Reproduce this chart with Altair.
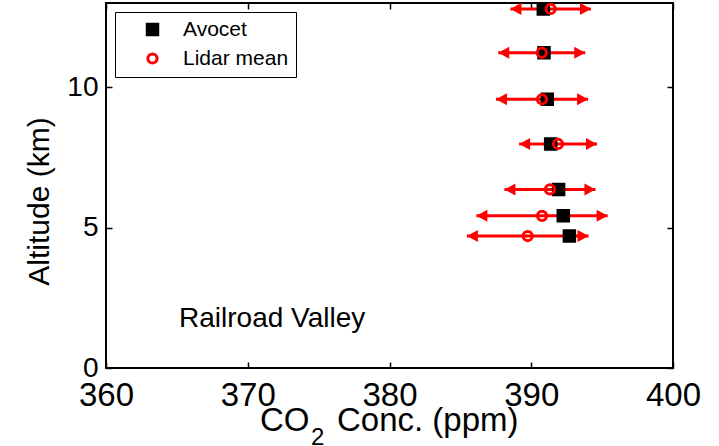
import altair as alt
import pandas as pd

# Profile values (altitude in km, CO2 in ppm)
altitude_km = [12.79, 11.23, 9.57, 7.98, 6.36, 5.42, 4.70]
avocet_ppm = [390.85, 390.90, 391.13, 391.37, 391.93, 392.26, 392.69]
lidar_ppm = [391.37, 390.74, 390.76, 391.89, 391.32, 390.76, 389.75]
lidar_err_ppm = [2.84, 3.07, 3.25, 2.75, 3.21, 4.63, 4.29]
series_names = ["Avocet", "Lidar mean"]
x_ticks = [360, 370, 380, 390, 400]
y_ticks = [0, 5, 10]
site_label = "Railroad Valley"
site_pos = (365.15, 1.46)

W, H = 567, 365
FONT = "Liberation Sans"

bars = pd.DataFrame({
    "alt": altitude_km,
    "lo": [m - e for m, e in zip(lidar_ppm, lidar_err_ppm)],
    "hi": [m + e for m, e in zip(lidar_ppm, lidar_err_ppm)],
})
points = pd.DataFrame({
    "alt": altitude_km + altitude_km,
    "conc": avocet_ppm + lidar_ppm,
    "series": [series_names[0]] * len(altitude_km) + [series_names[1]] * len(altitude_km),
})

xs = alt.Scale(domain=[360, 400], nice=False, zero=False)
ys = alt.Scale(domain=[0, 13], nice=False, zero=False)

# Error bars with the labelled axes
err = alt.Chart(bars).mark_rule(color="red", strokeWidth=3).encode(
    x=alt.X("lo:Q", scale=xs, axis=alt.Axis(
        orient="bottom", values=x_ticks, ticks=False, domain=False, grid=False,
        labelFontSize=33, labelPadding=11, labelFlush=False, labelOverlap=False,
        labelColor="black", format="d", title=None)),
    x2="hi:Q",
    y=alt.Y("alt:Q", scale=ys, axis=alt.Axis(
        orient="left", values=y_ticks, ticks=False, domain=False, grid=False,
        labelFontSize=28, labelPadding=8, labelFlush=False, labelOverlap=False,
        labelColor="black", format="d",
        title="Altitude (km)", titleFontSize=30, titleFontWeight="normal",
        titleColor="black", titleAngle=270, titleX=-58, titleY=198,
        titleAlign="center", titleBaseline="alphabetic")),
)

# Filled arrowheads whose tips sit on the error-bar ends
arrow_right = alt.Chart(bars).mark_point(
    shape="M0,0L-2,-1.1L-2,1.1Z", filled=True, color="red", opacity=1, size=121
).encode(x=alt.X("hi:Q", scale=xs, axis=None), y=alt.Y("alt:Q", scale=ys, axis=None))

arrow_left = alt.Chart(bars).mark_point(
    shape="M0,0L2,-1.1L2,1.1Z", filled=True, color="red", opacity=1, size=121
).encode(x=alt.X("lo:Q", scale=xs, axis=None), y=alt.Y("alt:Q", scale=ys, axis=None))

pts = alt.Chart(points).mark_point(strokeWidth=3, opacity=1).encode(
    x=alt.X("conc:Q", scale=xs, axis=None),
    y=alt.Y("alt:Q", scale=ys, axis=None),
    shape=alt.Shape("series:N", scale=alt.Scale(domain=series_names, range=["square", "circle"]),
                    legend=alt.Legend(
                        orient="none", legendX=9, legendY=9, title=None,
                        labelFontSize=21, labelFont=FONT, labelColor="black", labelLimit=400,
                        padding=7, rowPadding=6, symbolOffset=20, labelOffset=20,
                        strokeColor="black", fillColor="white", symbolStrokeWidth=3)),
    fill=alt.Fill("series:N", scale=alt.Scale(domain=series_names, range=["black", "transparent"])),
    stroke=alt.Stroke("series:N", scale=alt.Scale(domain=series_names, range=["black", "red"])),
    size=alt.Size("series:N", scale=alt.Scale(domain=series_names, range=[110, 85])),
)


def tick_layer(channel, orient, offset):
    ax = alt.Axis(orient=orient, offset=offset, values=x_ticks if channel == "x" else y_ticks,
                  labels=False, ticks=True, tickSize=6, tickWidth=1.5, tickColor="black",
                  domain=False, grid=False, title=None)
    base = alt.Chart(bars).mark_point(opacity=0)
    if channel == "x":
        return base.encode(x=alt.X("lo:Q", scale=xs, axis=ax))
    return base.encode(y=alt.Y("alt:Q", scale=ys, axis=ax))


# Inward-pointing ticks on all four sides of the frame
ticks = [
    tick_layer("x", "top", -H),
    tick_layer("x", "bottom", -H),
    tick_layer("y", "right", -W),
    tick_layer("y", "left", -W),
]

site = alt.Chart(pd.DataFrame({"x": [site_pos[0]], "y": [site_pos[1]], "t": [site_label]})).mark_text(
    align="left", baseline="alphabetic", fontSize=28, font=FONT, color="black"
).encode(x=alt.X("x:Q", scale=xs, axis=None), y=alt.Y("y:Q", scale=ys, axis=None), text="t:N")


def title_part(text, px, py, size):
    return alt.Chart(pd.DataFrame({"t": [text]})).mark_text(
        align="left", baseline="alphabetic", fontSize=size, font=FONT, color="black"
    ).encode(x=alt.value(px), y=alt.value(py), text="t:N")


# Axis title with a subscripted "2"
x_title = [
    title_part("CO", 154, 428, 33),
    title_part("2", 205, 442, 24),
    title_part("Conc. (ppm)", 231, 428, 33),
]

chart = alt.layer(
    err, arrow_left, arrow_right, pts, *ticks, site, *x_title
).resolve_axis(
    x="independent", y="independent"
).properties(
    width=W, height=H,
    padding={"left": 106, "top": 3, "right": 46, "bottom": 78},
    autosize=alt.AutoSizeParams(type="none"),
).configure(
    font=FONT
).configure_view(
    stroke="black", strokeWidth=2
)

chart.save("out.html", embed_options={"renderer": "svg", "actions": False})
